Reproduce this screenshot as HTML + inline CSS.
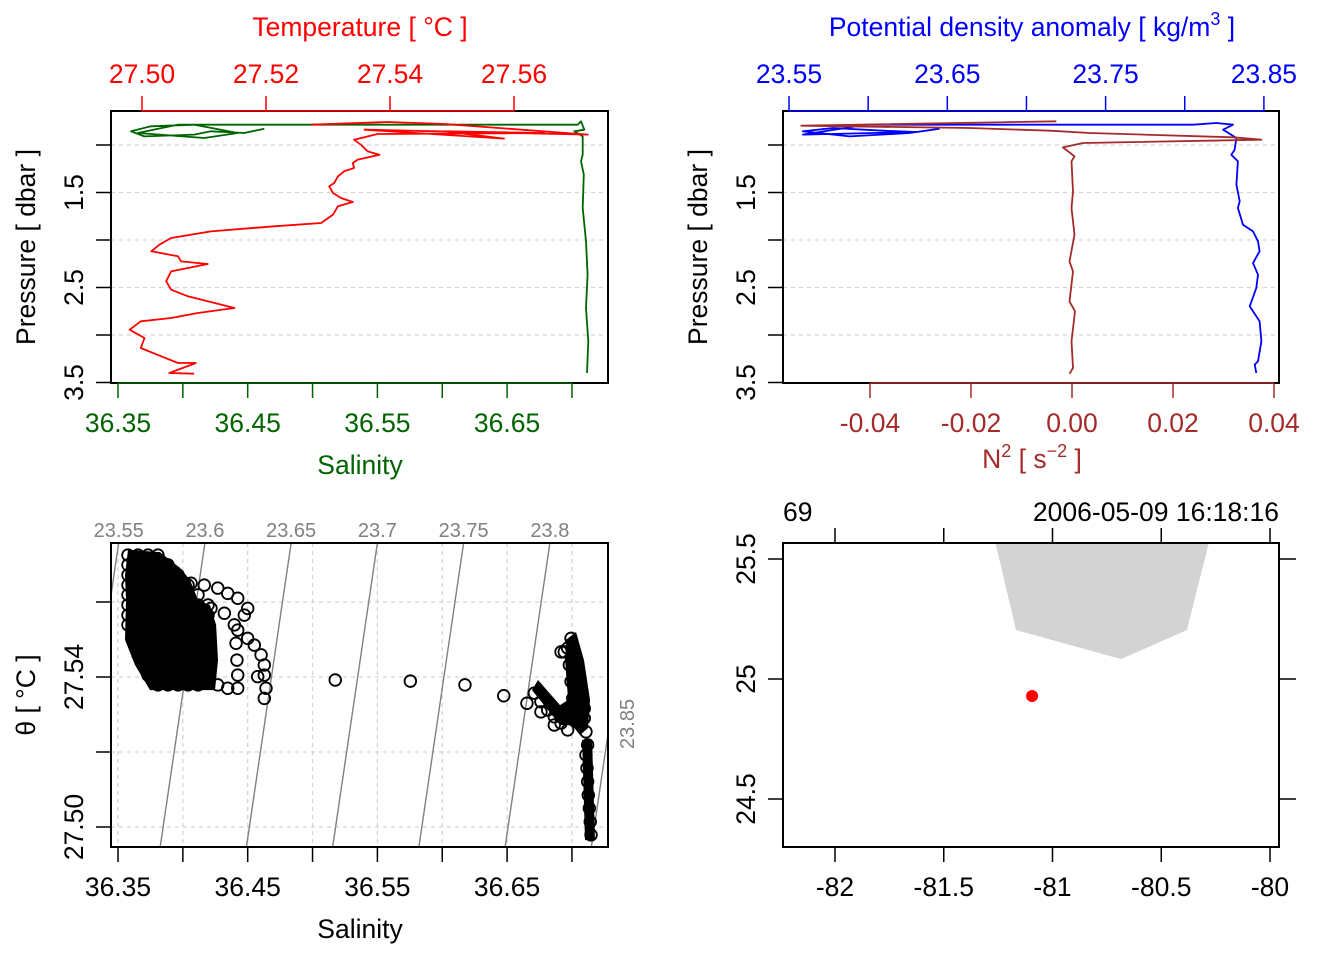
<!DOCTYPE html>
<html><head><meta charset="utf-8"><style>
html,body{margin:0;padding:0;background:#fff;}
svg{display:block;font-family:"Liberation Sans",Arial,sans-serif;}
</style></head><body>
<svg id="root" width="1344" height="960" viewBox="0 0 1344 960" xmlns="http://www.w3.org/2000/svg">
<defs>
<clipPath id="c1"><rect x="111" y="111" width="497" height="272"/></clipPath>
<clipPath id="c2"><rect x="783" y="111" width="496" height="272"/></clipPath>
<clipPath id="c3"><rect x="111" y="543" width="497" height="304"/></clipPath>
<clipPath id="c4"><rect x="783" y="543" width="496" height="304"/></clipPath>
</defs>
<g id="g1"></g>
<g id="g2"></g>
<g id="g3"></g>
<g id="g4"></g>
</svg>
<script>
// ---------- data ----------
const tempP = [0.786,0.758,0.779,0.891,0.839,0.933,0.856,0.874,0.884,0.944,0.997,1.067,1.102,1.154,1.189,1.242,1.277,1.330,1.400,1.435,1.505,1.558,1.600,1.645,1.733,1.821,1.856,1.909,1.979,2.049,2.119,2.172,2.225,2.253,2.330,2.435,2.523,2.593,2.645,2.716,2.768,2.821,2.856,2.944,3.032,3.137,3.224,3.295,3.295,3.400,3.407];
const tempT = [27.5273,27.5396,27.5488,27.5719,27.5359,27.5584,27.5488,27.5649,27.5380,27.5342,27.5353,27.5364,27.5383,27.5348,27.5340,27.5342,27.5326,27.5316,27.5310,27.5302,27.5308,27.5321,27.5340,27.5316,27.5308,27.5289,27.5213,27.5111,27.5047,27.5028,27.5015,27.5058,27.5063,27.5106,27.5047,27.5039,27.5047,27.5074,27.5106,27.5149,27.5090,27.5047,27.4998,27.4980,27.5004,27.4998,27.5031,27.5058,27.5087,27.5044,27.5084];
const salP = [0.828,0.874,0.856,0.891,0.909,0.856,0.803,0.786,0.874,0.926,0.874,0.786,0.786,0.751,0.839,0.856,0.909,1.102,1.172,1.312,1.663,2.014,2.365,2.716,3.066,3.400];
const salS = [36.4628,36.4474,36.4217,36.4088,36.3703,36.3600,36.3754,36.4088,36.4423,36.4165,36.3652,36.3960,36.7044,36.7070,36.7095,36.7018,36.7083,36.7083,36.7070,36.7091,36.7083,36.7108,36.7121,36.7108,36.7126,36.7116];
const sigP = [0.828,0.874,0.909,0.856,0.821,0.849,0.863,0.891,0.786,0.786,0.768,0.786,0.839,0.926,1.049,1.102,1.172,1.418,1.593,1.663,1.839,1.909,2.014,2.119,2.242,2.365,2.505,2.698,2.856,3.066,3.277,3.312,3.400];
const sigV = [23.6452,23.6262,23.5883,23.5588,23.5778,23.6094,23.6304,23.5588,23.5988,23.8052,23.8199,23.8305,23.8242,23.8326,23.8315,23.8294,23.8336,23.8326,23.8347,23.8336,23.8368,23.8431,23.8463,23.8473,23.8431,23.8463,23.8452,23.8410,23.8473,23.8484,23.8463,23.8442,23.8452];
const n2P = [0.751,0.797,0.821,0.849,0.874,0.919,0.944,0.979,1.025,1.119,1.172,1.488,1.663,1.944,2.225,2.330,2.646,2.751,3.066,3.347,3.407];
const n2V = [-0.0031,-0.0536,-0.0203,-0.0044,0.0035,0.0319,0.0375,0.0022,-0.0018,0.0005,-0.0001,0.0002,-0.0001,0.0005,-0.0005,0.0002,-0.0005,0.0006,-0.0001,0.0002,-0.0005];
const tsSal = [
36.3577,36.3654,36.3731,36.3808,
36.3577,36.3654,36.3731,36.3808,36.3885,
36.3577,36.3654,36.3731,36.3808,36.3885,36.3963,
36.3577,36.3654,36.3731,36.3808,36.3885,36.3963,36.4040,
36.3577,36.3654,36.3731,36.3808,36.3885,36.3963,36.4040,36.4117,
36.3577,36.3654,36.3731,36.3808,36.3885,36.3963,36.4040,36.4117,36.4194,
36.3577,36.3654,36.3731,36.3808,36.3885,36.3963,36.4040,36.4117,36.4194,
36.3577,36.3654,36.3731,36.3808,36.3885,36.3963,36.4040,36.4117,36.4194,
36.3654,36.3731,36.3808,36.3885,36.3963,36.4040,36.4117,36.4194,
36.3654,36.3731,36.3808,36.3885,36.3963,36.4040,36.4117,36.4194,
36.3654,36.3731,36.3808,36.3885,36.3963,36.4040,36.4117,36.4194,
36.3731,36.3808,36.3885,36.3963,36.4040,36.4117,36.4194,
36.3731,36.3808,36.3885,36.3963,36.4040,36.4117,36.4194,
36.3808,36.3885,36.3963,36.4040,36.4117,
36.4063,36.4165,36.4269,36.4346,36.4423,36.4500,36.4474,36.4397,36.4423,36.4500,36.4551,36.4603,36.4628,36.4628,36.4641,36.4628,36.4577,36.4410,36.4417,36.4423,36.4423,36.4192,36.4269,36.4346,36.4217,36.4320,
36.5175,36.5754,36.6175,36.6474,36.6653,
36.6710,36.6761,36.6813,36.6864,36.6916,36.6967,36.6761,36.6864,
36.6993,36.7006,36.7018,36.7044,36.7057,36.7070,36.7083,36.7095,36.7095,36.6941,36.6967,36.6980,36.6993,36.7006,36.6916,
36.7108,36.7121,36.7108,36.7116,36.7121,36.7126,36.7134,36.7141,36.7147];
const tsTheta = [
27.5725,27.5725,27.5725,27.5725,
27.5699,27.5699,27.5699,27.5699,27.5699,
27.5672,27.5672,27.5672,27.5672,27.5672,27.5672,
27.5645,27.5645,27.5645,27.5645,27.5645,27.5645,27.5645,
27.5619,27.5619,27.5619,27.5619,27.5619,27.5619,27.5619,27.5619,
27.5592,27.5592,27.5592,27.5592,27.5592,27.5592,27.5592,27.5592,27.5592,
27.5565,27.5565,27.5565,27.5565,27.5565,27.5565,27.5565,27.5565,27.5565,
27.5539,27.5539,27.5539,27.5539,27.5539,27.5539,27.5539,27.5539,27.5539,
27.5512,27.5512,27.5512,27.5512,27.5512,27.5512,27.5512,27.5512,
27.5485,27.5485,27.5485,27.5485,27.5485,27.5485,27.5485,27.5485,
27.5459,27.5459,27.5459,27.5459,27.5459,27.5459,27.5459,27.5459,
27.5432,27.5432,27.5432,27.5432,27.5432,27.5432,27.5432,
27.5405,27.5405,27.5405,27.5405,27.5405,27.5405,27.5405,
27.5379,27.5379,27.5379,27.5379,27.5379,
27.5650,27.5645,27.5637,27.5623,27.5610,27.5583,27.5565,27.5539,27.5525,27.5503,27.5485,27.5459,27.5432,27.5405,27.5370,27.5343,27.5401,27.5490,27.5445,27.5405,27.5370,27.5392,27.5379,27.5370,27.5583,27.5570,
27.5392,27.5389,27.5379,27.5350,27.5330,
27.5357,27.5334,27.5312,27.5294,27.5277,27.5259,27.5307,27.5272,
27.5503,27.5477,27.5450,27.5423,27.5397,27.5370,27.5343,27.5316,27.5290,27.5467,27.5477,27.5432,27.5388,27.5343,27.5467,
27.5254,27.5219,27.5192,27.5157,27.5121,27.5085,27.5050,27.5014,27.4979];
// dense overplotted regions of the T-S cloud (outlines)
const denseASal = [36.3577,36.3824,36.3978,36.4055,36.4117,36.4209,36.4256,36.4271,36.4248,36.3747,36.3631,36.3554,36.3562,36.3554];
const denseATheta = [27.5739,27.5733,27.5691,27.5659,27.5605,27.5592,27.5539,27.5445,27.5365,27.5365,27.5432,27.5499,27.5605,27.5672];
const denseBSal = [36.6954,36.7031,36.7093,36.7139,36.7124,36.7062,36.7000,36.6908,36.6692,36.6738,36.6908,36.6970,36.6947];
const denseBTheta = [27.5499,27.5520,27.5445,27.5339,27.5264,27.5245,27.5272,27.5272,27.5365,27.5392,27.5325,27.5339,27.5445];
const denseCSal = [36.7078,36.7155,36.7178,36.7101];
const denseCTheta = [27.5232,27.5232,27.4965,27.4965];
const sigmaLevels = [23.55,23.6,23.65,23.7,23.75,23.8,23.85];
const sigmaLabels = ["23.55","23.6","23.65","23.7","23.75","23.8","23.85"];
const coastLon = [-81.297,-81.168,-80.685,-80.382,-80.244];
const coastLat = [25.70,25.204,25.083,25.204,25.70];
const stationLon = [-81.094];
const stationLat = [24.929];
const tempTicks = [27.50,27.52,27.54,27.56];
const salTicks = [36.35,36.40,36.45,36.50,36.55,36.60,36.65,36.70];
const salLabels = ["36.35","","36.45","","36.55","","36.65",""];
const presTicks = [1,1.5,2,2.5,3,3.5];
const presLabels = ["","1.5","","2.5","","3.5"];
const sigTicks = [23.55,23.60,23.65,23.70,23.75,23.80,23.85];
const sigTickLabels = ["23.55","","23.65","","23.75","","23.85"];
const n2Ticks = [-0.04,-0.02,0,0.02,0.04];
const n2Labels = ["-0.04","-0.02","0.00","0.02","0.04"];
const thetaTicks = [27.50,27.52,27.54,27.56];
const thetaLabels = ["27.50","","27.54",""];
const lonTicks = [-82,-81.5,-81,-80.5,-80];
const lonLabels = ["-82","-81.5","-81","-80.5","-80"];
const latTicks = [24.5,25,25.5];
const latLabels = ["24.5","25","25.5"];

// ---------- scales ----------
const xT = t => 142 + (t-27.5)*6200;
const xS = s => 118 + (s-36.35)*1297;
const yP = p => 145 + (p-1)*95;
const xSig = v => 789 + (v-23.55)*1583;
const xN = n => 1072 + n*5050;
const yTh = t => 827 - (t-27.5)*3750;
const xLon = l => 835 + (l+82)*217.5;
const yLat = l => 679 - (l-25)*240;

const NS = "http://www.w3.org/2000/svg";
function mk(parent, tag, attrs, txt){
  const e = document.createElementNS(NS, tag);
  for (const k in attrs) e.setAttribute(k, attrs[k]);
  if (txt !== undefined) e.textContent = txt;
  parent.appendChild(e);
  return e;
}
function poly(parent, xs, ys, color, clip){
  const pts = xs.map((x,i)=>x.toFixed(1)+","+ys[i].toFixed(1)).join(" ");
  return mk(parent,"polyline",{points:pts,fill:"none",stroke:color,"stroke-width":1.8,"stroke-linejoin":"round","clip-path":"url(#"+clip+")"});
}
const F = 26.5;

// ---------- panel 1 ----------
const g1 = document.getElementById("g1");
presTicks.forEach((p,i)=>{
  const l = mk(g1,"line",{x1:111,x2:608,y1:yP(p),y2:yP(p),stroke:"#d3d3d3","stroke-dasharray":"4,4","stroke-width":1.3});
  
  
});
let s1 = poly(g1, salS.map(xS), salP.map(yP), "#006400", "c1");


let t1 = poly(g1, tempT.map(xT), tempP.map(yP), "#ff0000", "c1");


let b1 = mk(g1,"rect",{x:111,y:111,width:497,height:272,fill:"none",stroke:"#000","stroke-width":2});


mk(g1,"line",{x1:xT(27.5),x2:xT(27.56),y1:111,y2:111,stroke:"#ff0000","stroke-width":1.5});
tempTicks.forEach(t=>{
  mk(g1,"line",{x1:xT(t),x2:xT(t),y1:111,y2:96,stroke:"#ff0000","stroke-width":1.5});
  const tx = mk(g1,"text",{x:xT(t),y:83,"font-size":F,fill:"#ff0000","text-anchor":"middle"},t.toFixed(2));
  
  
});
let tt1 = mk(g1,"text",{x:360,y:36,"font-size":F,fill:"#ff0000","text-anchor":"middle"},"Temperature [ °C ]");


mk(g1,"line",{x1:xS(36.35),x2:xS(36.70),y1:383,y2:383,stroke:"#006400","stroke-width":1.5});
salTicks.forEach((s,i)=>{
  mk(g1,"line",{x1:xS(s),x2:xS(s),y1:383,y2:398,stroke:"#006400","stroke-width":1.5});
  if (salLabels[i]) {
    const tx = mk(g1,"text",{x:xS(s),y:432,"font-size":F,fill:"#006400","text-anchor":"middle"},salLabels[i]);
    
    
  }
});
let st1 = mk(g1,"text",{x:360,y:474,"font-size":F,fill:"#006400","text-anchor":"middle"},"Salinity");


function leftPressure(g, x0){
  presTicks.forEach((p,i)=>{
    mk(g,"line",{x1:x0,x2:x0-15,y1:yP(p),y2:yP(p),stroke:"#000","stroke-width":1.5});
    if (presLabels[i]) {
      const tx = mk(g,"text",{x:x0-28,y:yP(p),"font-size":F,"text-anchor":"middle",transform:"rotate(-90 "+(x0-28)+" "+yP(p)+")"},presLabels[i]);
      
      
    }
  });
  mk(g,"line",{x1:x0,x2:x0,y1:yP(1),y2:yP(3.5),stroke:"#000","stroke-width":1.5});
  const yt = mk(g,"text",{x:x0-76,y:247,"font-size":F,"text-anchor":"middle",transform:"rotate(-90 "+(x0-76)+" 247)"},"Pressure [ dbar ]");
  
  
}
leftPressure(g1, 111);

// ---------- panel 2 ----------
const g2 = document.getElementById("g2");
presTicks.forEach(p=>{
  const l = mk(g2,"line",{x1:783,x2:1279,y1:yP(p),y2:yP(p),stroke:"#d3d3d3","stroke-dasharray":"4,4","stroke-width":1.3});
  
  
});
let sg = poly(g2, sigV.map(xSig), sigP.map(yP), "#0000ff", "c2");


let nl = poly(g2, n2V.map(xN), n2P.map(yP), "#a52a2a", "c2");


let b2 = mk(g2,"rect",{x:783,y:111,width:496,height:272,fill:"none",stroke:"#000","stroke-width":2});


mk(g2,"line",{x1:xSig(23.55),x2:xSig(23.85),y1:111,y2:111,stroke:"#0000ff","stroke-width":1.5});
sigTicks.forEach((v,i)=>{
  mk(g2,"line",{x1:xSig(v),x2:xSig(v),y1:111,y2:96,stroke:"#0000ff","stroke-width":1.5});
  if (sigTickLabels[i]) {
    const tx = mk(g2,"text",{x:xSig(v),y:83,"font-size":F,fill:"#0000ff","text-anchor":"middle"},sigTickLabels[i]);
    
    
  }
});
let dt = mk(g2,"text",{x:1032,y:36,"font-size":F,fill:"#0000ff","text-anchor":"middle"});


dt.innerHTML = 'Potential density anomaly [ kg/m<tspan dy="-11" font-size="18">3</tspan><tspan dy="11"> ]</tspan>';
mk(g2,"line",{x1:xN(-0.04),x2:xN(0.04),y1:383,y2:383,stroke:"#a52a2a","stroke-width":1.5});
n2Ticks.forEach((n,i)=>{
  mk(g2,"line",{x1:xN(n),x2:xN(n),y1:383,y2:398,stroke:"#a52a2a","stroke-width":1.5});
  const tx = mk(g2,"text",{x:xN(n),y:432,"font-size":F,fill:"#a52a2a","text-anchor":"middle"},n2Labels[i]);
  
  
});
let nt = mk(g2,"text",{x:1032,y:468,"font-size":F,fill:"#a52a2a","text-anchor":"middle"});


nt.innerHTML = 'N<tspan dy="-11" font-size="18">2</tspan><tspan dy="11"> [ s</tspan><tspan dy="-11" font-size="18">−2</tspan><tspan dy="11"> ]</tspan>';
leftPressure(g2, 783);

// ---------- panel 3 ----------
const g3 = document.getElementById("g3");
salTicks.forEach(s=>{
  const l = mk(g3,"line",{x1:xS(s),x2:xS(s),y1:543,y2:847,stroke:"#d3d3d3","stroke-dasharray":"4,4","stroke-width":1.3});
  
  
});
thetaTicks.forEach(t=>{
  const l = mk(g3,"line",{x1:111,x2:608,y1:yTh(t),y2:yTh(t),stroke:"#d3d3d3","stroke-dasharray":"4,4","stroke-width":1.3});
  
  
});
const thTop = 27.5 + (827-543)/3750, thBot = 27.5 + (827-847)/3750;
const sOf = (sig, th) => 36.417 + (sig-23.6)/0.752 + 0.4255*(th-27.5757);
const sRight = 36.35 + (608-118)/1297;
sigmaLevels.forEach((sig,i)=>{
  const l = mk(g3,"line",{x1:xS(sOf(sig,thBot)),y1:847,x2:xS(sOf(sig,thTop)),y2:543,stroke:"#808080","stroke-width":1.4,"clip-path":"url(#c3)"});
  
  
  const sTop = sOf(sig,thTop);
  let tx;
  if (xS(sTop) <= 608) {
    tx = mk(g3,"text",{x:xS(sTop),y:537,"font-size":20,fill:"#808080","text-anchor":"middle"},sigmaLabels[i]);
  } else {
    const th = thTop + (sRight - sTop)/0.4255;
    const yy = yTh(th) - 10;
    tx = mk(g3,"text",{x:634,y:yy,"font-size":20,fill:"#808080","text-anchor":"middle",transform:"rotate(-90 634 "+yy+")"},sigmaLabels[i]);
  }
  
  
});
function dense(sal, th, name){
  const pts = sal.map((s,i)=>xS(s).toFixed(1)+","+yTh(th[i]).toFixed(1)).join(" ");
  const p = mk(g3,"polygon",{points:pts,fill:"#000",stroke:"none","clip-path":"url(#c3)"});
  
  
}
dense(denseASal, denseATheta, 'ts-dense-cluster-fresh');
dense(denseBSal, denseBTheta, 'ts-dense-cluster-salty');
dense(denseCSal, denseCTheta, 'ts-dense-cluster-deep');
tsSal.forEach((s,i)=>{
  const c = mk(g3,"circle",{cx:xS(s),cy:yTh(tsTheta[i]),r:5.8,fill:"none",stroke:"#000","stroke-width":1.8,"clip-path":"url(#c3)"});
  
  
});
let b3 = mk(g3,"rect",{x:111,y:543,width:497,height:304,fill:"none",stroke:"#000","stroke-width":2});


mk(g3,"line",{x1:xS(36.35),x2:xS(36.70),y1:847,y2:847,stroke:"#000","stroke-width":1.5});
salTicks.forEach((s,i)=>{
  mk(g3,"line",{x1:xS(s),x2:xS(s),y1:847,y2:862,stroke:"#000","stroke-width":1.5});
  if (salLabels[i]) {
    const tx = mk(g3,"text",{x:xS(s),y:896,"font-size":F,"text-anchor":"middle"},salLabels[i]);
    
    
  }
});
let st3 = mk(g3,"text",{x:360,y:938,"font-size":F,"text-anchor":"middle"},"Salinity");


mk(g3,"line",{x1:111,x2:111,y1:yTh(27.56),y2:yTh(27.50),stroke:"#000","stroke-width":1.5});
thetaTicks.forEach((t,i)=>{
  mk(g3,"line",{x1:111,x2:96,y1:yTh(t),y2:yTh(t),stroke:"#000","stroke-width":1.5});
  if (thetaLabels[i]) {
    const y = yTh(t);
    const tx = mk(g3,"text",{x:83,y:y,"font-size":F,"text-anchor":"middle",transform:"rotate(-90 83 "+y+")"},thetaLabels[i]);
    
    
  }
});
let th3 = mk(g3,"text",{x:35,y:695,"font-size":F,"text-anchor":"middle",transform:"rotate(-90 35 695)"},"θ [ °C ]");



// ---------- panel 4 ----------
const g4 = document.getElementById("g4");
const coastPts = coastLon.map((l,i)=>xLon(l).toFixed(1)+","+yLat(coastLat[i]).toFixed(1)).join(" ");
let land = mk(g4,"polygon",{points:coastPts,fill:"#d3d3d3",stroke:"none","clip-path":"url(#c4)"});


stationLon.forEach((l,i)=>{
  const c = mk(g4,"circle",{cx:xLon(l),cy:yLat(stationLat[i]),r:6,fill:"#ff0000"});
  
  
});
let b4 = mk(g4,"rect",{x:783,y:543,width:496,height:304,fill:"none",stroke:"#000","stroke-width":2});


lonTicks.forEach((l,i)=>{
  mk(g4,"line",{x1:xLon(l),x2:xLon(l),y1:847,y2:862,stroke:"#000","stroke-width":1.5});
  mk(g4,"line",{x1:xLon(l),x2:xLon(l),y1:543,y2:528,stroke:"#000","stroke-width":1.5});
  const tx = mk(g4,"text",{x:xLon(l),y:896,"font-size":F,"text-anchor":"middle"},lonLabels[i]);
  
  
});
latTicks.forEach((l,i)=>{
  mk(g4,"line",{x1:783,x2:768,y1:yLat(l),y2:yLat(l),stroke:"#000","stroke-width":1.5});
  mk(g4,"line",{x1:1279,x2:1296,y1:yLat(l),y2:yLat(l),stroke:"#000","stroke-width":1.5});
  const y = yLat(l);
  const tx = mk(g4,"text",{x:755,y:y,"font-size":F,"text-anchor":"middle",transform:"rotate(-90 755 "+y+")"},latLabels[i]);
  
  
});
let sid = mk(g4,"text",{x:783,y:521,"font-size":F},"69");


let sdt = mk(g4,"text",{x:1279,y:521,"font-size":F,"text-anchor":"end"},"2006-05-09 16:18:16");


</script>
</body></html>
